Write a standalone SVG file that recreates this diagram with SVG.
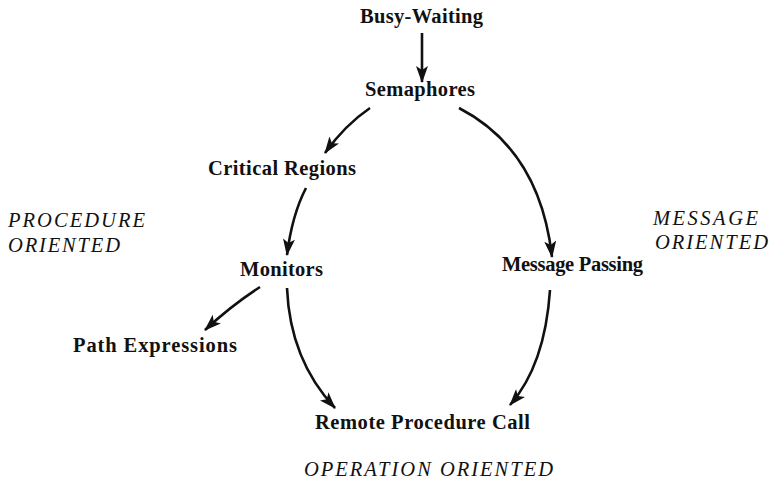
<svg xmlns="http://www.w3.org/2000/svg" width="771" height="484" viewBox="0 0 771 484">
<style>
.n{font-family:"Liberation Serif","Times New Roman",serif;font-size:20.5px;font-weight:bold;fill:#111}
.c{font-family:"Liberation Serif","Times New Roman",serif;font-size:20.5px;font-style:italic;fill:#111}
.e{fill:none;stroke:#111;stroke-width:2.6;marker-end:url(#ah)}
</style>
<defs>
<marker id="ah" markerUnits="userSpaceOnUse" markerWidth="18" markerHeight="12" refX="16" refY="6" orient="auto">
<path d="M0,0 L17,6 L0,12 L4,6 z" fill="#111"/>
</marker>
</defs>
<g id="busy-waiting"><text class="n" x="360" y="23" textLength="123" lengthAdjust="spacing">Busy-Waiting</text></g>
<g id="semaphores"><text class="n" x="365" y="96" textLength="110" lengthAdjust="spacing">Semaphores</text></g>
<g id="critical-regions"><text class="n" x="208" y="175" textLength="148" lengthAdjust="spacing">Critical Regions</text></g>
<g id="monitors"><text class="n" x="240" y="276" textLength="83" lengthAdjust="spacing">Monitors</text></g>
<g id="message-passing"><text class="n" x="502" y="271" textLength="141" lengthAdjust="spacing">Message Passing</text></g>
<g id="path-expressions"><text class="n" x="73" y="352" textLength="164" lengthAdjust="spacing">Path Expressions</text></g>
<g id="rpc"><text class="n" x="315" y="429" textLength="215" lengthAdjust="spacing">Remote Procedure Call</text></g>
<g id="procedure-oriented"><text class="c" x="8" y="227" textLength="137" lengthAdjust="spacing">PROCEDURE</text><text class="c" x="8" y="252" textLength="112" lengthAdjust="spacing">ORIENTED</text></g>
<g id="message-oriented"><text class="c" x="653" y="225" textLength="105" lengthAdjust="spacing">MESSAGE</text><text class="c" x="655" y="249" textLength="113" lengthAdjust="spacing">ORIENTED</text></g>
<g id="operation-oriented"><text class="c" x="304" y="476" textLength="249" lengthAdjust="spacing">OPERATION ORIENTED</text></g>
<g id="connectors">
<path class="e" d="M422,33 L422,82"/>
<path class="e" d="M370,108 Q345,125 325,153"/>
<path class="e" d="M306,188 Q292,215 287,255"/>
<path class="e" d="M459,108 Q540,150 552,257"/>
<path class="e" d="M260,287 Q232,305 205,330"/>
<path class="e" d="M287,288 Q290,360 335,408"/>
<path class="e" d="M550,290 Q545,365 510,405"/>
</g>
</svg>
